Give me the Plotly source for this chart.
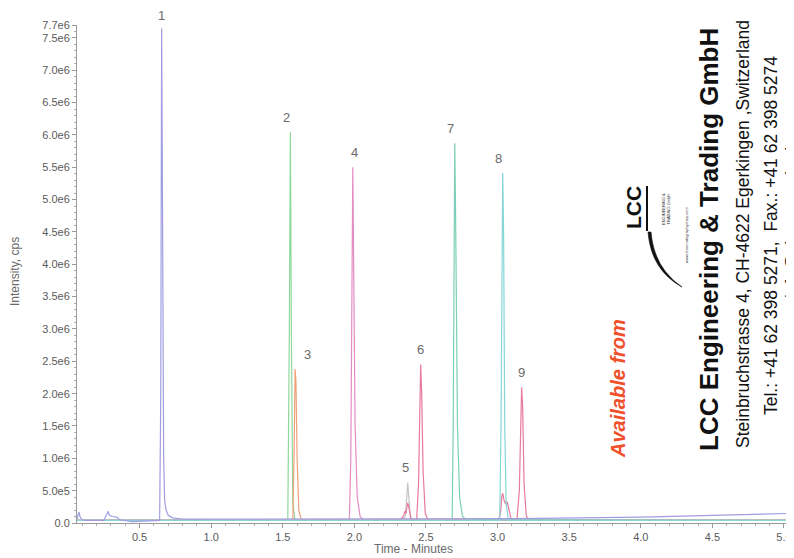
import plotly.graph_objects as go

# ---------------- data ----------------
t_start, t_end = 0.063, 5.07

# trace 1 (lavender) : early bumps, peak 1, rising baseline
t_p1 = [0.063, 0.070, 0.077, 0.085, 0.10, 0.12, 0.25, 0.272, 0.28, 0.29, 0.31, 0.34, 0.36, 0.45, 0.60,
        0.640, 0.648, 0.654, 0.660, 0.668, 0.675, 0.685, 0.70, 0.73, 0.80, 1.5, 2.5, 3.3, 4.0, 4.5, 5.07]
i_p1 = [0.06e6, 0.10e6, 0.17e6, 0.09e6, 0.05e6, 0.04e6, 0.04e6, 0.14e6, 0.18e6, 0.12e6, 0.10e6, 0.09e6,
        0.05e6, 0.02e6, 0.03e6, 0.04e6, 2.0e6, 7.65e6, 5.0e6, 1.0e6, 0.35e6, 0.20e6, 0.12e6, 0.08e6,
        0.06e6, 0.06e6, 0.06e6, 0.07e6, 0.09e6, 0.12e6, 0.15e6]

# trace 2 (green) : peak 2
t_p2 = [0.063, 1.535, 1.546, 1.553, 1.560, 1.570, 1.585, 5.07]
i_p2 = [0.04e6, 0.04e6, 3.0e6, 6.04e6, 3.0e6, 0.3e6, 0.05e6, 0.04e6]

# trace 3 (orange) : peak 3
t_p3 = [0.063, 1.570, 1.580, 1.586, 1.592, 1.600, 1.612, 1.630, 5.07]
i_p3 = [0.04e6, 0.04e6, 1.2e6, 2.38e6, 2.2e6, 1.0e6, 0.2e6, 0.05e6, 0.04e6]

# trace 4 (magenta pink) : peak 4
t_p4 = [0.063, 1.965, 1.975, 1.984, 1.989, 1.995, 2.005, 2.020, 2.040, 2.060, 5.07]
i_p4 = [0.04e6, 0.05e6, 1.0e6, 4.5e6, 5.5e6, 4.0e6, 1.5e6, 0.4e6, 0.1e6, 0.05e6, 0.04e6]

# trace 5 (grey) : peak 5
t_p5 = [0.063, 2.330, 2.355, 2.365, 2.373, 2.380, 2.390, 2.405, 5.07]
i_p5 = [0.04e6, 0.04e6, 0.10e6, 0.35e6, 0.62e6, 0.40e6, 0.12e6, 0.04e6, 0.04e6]

# trace 6 (red pink) : small peak under 5, peak 6, small peak under 8, peak 9
t_p6 = [0.063, 2.320, 2.345, 2.352, 2.360, 2.372, 2.380, 2.395, 2.410,
        2.435, 2.448, 2.456, 2.463, 2.470, 2.480, 2.495, 2.515,
        3.005, 3.020, 3.030, 3.036, 3.045, 3.055, 3.068, 3.080, 3.095, 3.110,
        3.135, 3.152, 3.162, 3.168, 3.175, 3.185, 3.200, 3.215, 5.07]
i_p6 = [0.04e6, 0.04e6, 0.12e6, 0.18e6, 0.15e6, 0.31e6, 0.25e6, 0.06e6, 0.04e6,
        0.05e6, 0.6e6, 2.0e6, 2.45e6, 2.0e6, 0.8e6, 0.15e6, 0.04e6,
        0.04e6, 0.15e6, 0.42e6, 0.46e6, 0.35e6, 0.30e6, 0.32e6, 0.18e6, 0.06e6, 0.04e6,
        0.04e6, 0.5e6, 1.8e6, 2.1e6, 1.8e6, 0.6e6, 0.12e6, 0.04e6, 0.04e6]

# trace 7 (teal) : peak 7
t_p7 = [0.063, 2.683, 2.690, 2.697, 2.701, 2.708, 2.720, 2.735, 2.755, 2.780, 5.07]
i_p7 = [0.04e6, 0.04e6, 1.5e6, 5.0e6, 5.87e6, 4.5e6, 1.5e6, 0.4e6, 0.1e6, 0.05e6, 0.04e6]

# trace 8 (cyan) : peak 8
t_p8 = [0.063, 3.015, 3.024, 3.031, 3.036, 3.042, 3.050, 3.060, 3.075, 3.090, 5.07]
i_p8 = [0.04e6, 0.04e6, 1.5e6, 4.8e6, 5.41e6, 4.5e6, 1.5e6, 0.3e6, 0.06e6, 0.04e6, 0.04e6]

# peak labels
peak_names = ["1", "2", "3", "4", "5", "6", "7", "8", "9"]
peak_times = [0.654, 1.550, 1.586, 1.989, 2.373, 2.463, 2.701, 3.036, 3.168]
peak_heights = [7.65e6, 6.04e6, 2.38e6, 5.5e6, 0.62e6, 2.45e6, 5.87e6, 5.41e6, 2.1e6]
label_dx = [0, -3, 12, 2, -2, 0, -4, -4, 0]
label_dy = [13, 15, 15, 15, 15, 15, 15, 15, 15]

# axis ticks
y_tickvals = [0, 0.5e6, 1.0e6, 1.5e6, 2.0e6, 2.5e6, 3.0e6, 3.5e6, 4.0e6, 4.5e6, 5.0e6,
              5.5e6, 6.0e6, 6.5e6, 7.0e6, 7.5e6, 7.7e6]
y_ticktext = ["0.0", "5.0e5", "1.0e6", "1.5e6", "2.0e6", "2.5e6", "3.0e6", "3.5e6", "4.0e6",
              "4.5e6", "5.0e6", "5.5e6", "6.0e6", "6.5e6", "7.0e6", "7.5e6", "7.7e6"]
x_tickvals = [0.5, 1.0, 1.5, 2.0, 2.5, 3.0, 3.5, 4.0, 4.5, 5.0]
x_ticktext = ["0.5", "1.0", "1.5", "2.0", "2.5", "3.0", "3.5", "4.0", "4.5", "5.0"]

marker_level = [0.40e6]

# ---------------- figure ----------------
W, H = 794, 558
OFF = 8  # page body margin
# plot area in page pixels: left 77, top 25, right 794, bottom 523
L, T = 77 - OFF, 25 - OFF
R = W - (794 - OFF)
B = H - (523 - OFF)
PW, PH = W - L - R, H - T - B


def px(x):
    return (x - OFF - L) / PW


def py(y):
    return (H - B - (y - OFF)) / PH


series = [
    (t_p2, i_p2, "#8fd89a"),
    (t_p3, i_p3, "#f0a27a"),
    (t_p4, i_p4, "#e48cc4"),
    (t_p5, i_p5, "#c4c4c4"),
    (t_p6, i_p6, "#e87a9e"),
    (t_p7, i_p7, "#7ccfb8"),
    (t_p8, i_p8, "#86d6d8"),
    (t_p1, i_p1, "#a29de2"),
]

fig = go.Figure()
for tx, iy, col in series:
    fig.add_trace(go.Scatter(x=tx, y=iy, mode="lines", line=dict(color=col, width=1.2),
                             hoverinfo="skip", showlegend=False))

fig.add_trace(go.Scatter(x=[0.052], y=marker_level, mode="markers", cliponaxis=False,
                         marker=dict(symbol="triangle-right", size=8, color="#2d5fbf"),
                         showlegend=False, hoverinfo="skip"))

FONT = "Liberation Sans, Arial, sans-serif"
tick_font = dict(family=FONT, size=11, color="#5a5a5a")

fig.update_layout(
    width=W, height=H,
    margin=dict(l=L, r=R, t=T, b=B, autoexpand=False),
    paper_bgcolor="white", plot_bgcolor="white",
    showlegend=False,
    xaxis=dict(range=[t_start, t_end], showgrid=False, zeroline=False,
               showline=True, linecolor="#9a9a9a", linewidth=1,
               ticks="outside", ticklen=4, tickcolor="#9a9a9a",
               tickvals=x_tickvals, ticktext=x_ticktext, tickfont=tick_font,
               minor=dict(dtick=0.1, ticks="outside", ticklen=2, tickcolor="#b0b0b0"),
               automargin=False),
    yaxis=dict(range=[0, 7.7e6], showgrid=False, zeroline=False,
               showline=True, linecolor="#9a9a9a", linewidth=1,
               ticks="outside", ticklen=4, tickcolor="#9a9a9a",
               tickvals=y_tickvals, ticktext=y_ticktext, tickfont=tick_font,
               minor=dict(dtick=1e5, ticks="outside", ticklen=2, tickcolor="#b0b0b0"),
               automargin=False),
)

ann = []
for name, tx, hy, dx, dy in zip(peak_names, peak_times, peak_heights, label_dx, label_dy):
    ann.append(dict(x=tx, y=hy, xref="x", yref="y", text=name, showarrow=False,
                    xanchor="center", yanchor="middle", xshift=dx, yshift=dy,
                    font=dict(family=FONT, size=13, color="#6a6a6a")))


def rot_text(x, y, text, size, color, angle=-90):
    return dict(x=px(x), y=py(y), xref="paper", yref="paper", text=text,
                textangle=angle, showarrow=False, xanchor="center", yanchor="middle",
                font=dict(family=FONT, size=size, color=color))


# axis titles
ann.append(rot_text(15, 272, "Intensity, cps", 12, "#6a6a6a"))
ann.append(rot_text(413, 549, "Time - Minutes", 12, "#6a6a6a", angle=0))

# advertisement text
ann.append(rot_text(618, 389, "<b><i>Available from</i></b>", 20, "#f0502a"))
ann.append(rot_text(709, 240, "<b>LCC Engineering &amp; Trading GmbH</b>", 26, "#111111"))
ann.append(rot_text(743, 234, "Steinbruchstrasse 4, CH-4622 Egerkingen ,Switzerland", 17.5, "#111111"))
ann.append(rot_text(771, 236, "Tel.: +41 62 398 5271,  Fax.: +41 62 398 5274", 17.5, "#111111"))
ann.append(rot_text(791, 220, "info@chemsupply.ch", 17, "#111111"))
# logo
ann.append(rot_text(633, 208, "<b>LCC</b>", 21, "#111111"))
ann.append(rot_text(666, 209, "ENGINEERING &amp;<br>TRADING GmbH", 4, "#222222"))
ann.append(rot_text(686, 235, "www.chromatographyshop.com", 4, "#444444"))
fig.update_layout(annotations=ann)

# logo underline and swoosh
fig.add_shape(type="line", xref="paper", yref="paper", x0=px(647), x1=px(647), y0=py(186), y1=py(231),
              line=dict(color="#111111", width=2))
swoosh = "M {a},{b} Q {c},{d} {e},{f} Q {g},{h} {i},{j} Z".format(
    a=px(648), b=py(232), c=px(651), d=py(270), e=px(682), f=py(287),
    g=px(654), h=py(268), i=px(651), j=py(232))
fig.add_shape(type="path", xref="paper", yref="paper", path=swoosh,
              fillcolor="#111111", line=dict(color="#111111", width=0.6))

fig.write_html("out.html")
